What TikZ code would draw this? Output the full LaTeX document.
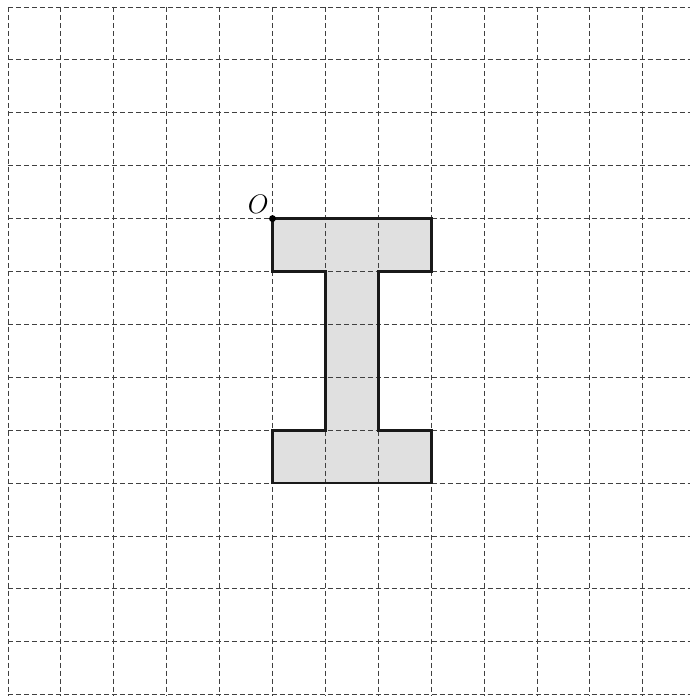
\documentclass[tikz,border=0pt]{standalone}
\begin{document}
\begin{tikzpicture}[x=1cm,y=1cm,
  gridline/.style={draw=black!75, line width=0.5pt, dash pattern=on 2.7pt off 1.6pt},
  shapeline/.style={draw=black!90, line width=1.5pt, line join=miter}]
\useasboundingbox (-0.151,0.132) rectangle (12.892,-13.025);
% filled shape
\coordinate (O) at (5,-4);
\fill[black!12] (5,-4) -- (8,-4) -- (8,-5) -- (7,-5) -- (7,-8) -- (8,-8) -- (8,-9) -- (5,-9) -- (5,-8) -- (6,-8) -- (6,-5) -- (5,-5) -- cycle;
% grid
\foreach \i in {0,...,13} { \draw[gridline] (0,-\i) -- (12.892,-\i); }
\foreach \j in {0,...,12} { \draw[gridline] (\j,0) -- (\j,-13); }
% outline
\draw[shapeline] (5,-4) -- (8,-4) -- (8,-5) -- (7,-5) -- (7,-8) -- (8,-8) -- (8,-9) -- (5,-9) -- (5,-8) -- (6,-8) -- (6,-5) -- (5,-5) -- cycle;
\fill[black] (O) circle (0.065);
\node[inner sep=0pt, font=\fontsize{14}{16}\selectfont] (Olabel) at (4.73,-3.73) {$O$};
\end{tikzpicture}
\end{document}
